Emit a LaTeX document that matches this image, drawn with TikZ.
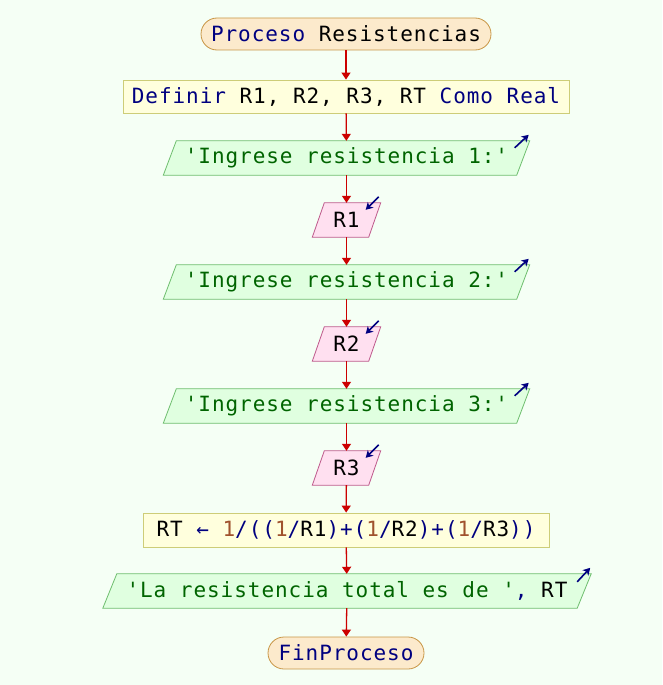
\documentclass[tikz,border=0pt]{standalone}
\usepackage{fontspec}
\setmonofont[LetterSpace=4.5]{DejaVu Sans Mono}
\usetikzlibrary{arrows.meta,backgrounds}
\definecolor{bg}{RGB}{245,255,245}
\definecolor{termfill}{RGB}{252,234,204}
\definecolor{termdraw}{RGB}{200,150,70}
\definecolor{procfill}{RGB}{255,255,221}
\definecolor{procdraw}{RGB}{205,205,120}
\definecolor{outfill}{RGB}{224,255,224}
\definecolor{outdraw}{RGB}{110,190,110}
\definecolor{infill}{RGB}{255,224,240}
\definecolor{indraw}{RGB}{190,90,140}
\definecolor{kw}{RGB}{0,0,128}
\definecolor{str}{RGB}{0,100,0}
\definecolor{num}{RGB}{160,82,45}
\definecolor{flow}{RGB}{204,0,0}
\newcommand\K[1]{\textcolor{kw}{#1}}
\newcommand\Sx[1]{\textcolor{str}{#1}}
\newcommand\N[1]{\textcolor{num}{#1}}
\newcommand\mypara[3]{%
  \filldraw[#3] ([xshift=#2]#1.north west) -- (#1.north east)
    -- ([xshift=-#2]#1.south east) -- (#1.south west) -- cycle;}
\begin{document}
\begin{tikzpicture}[x=1pt,y=-1pt,
  every node/.style={font=\ttfamily\fontsize{21}{24}\selectfont, inner sep=0pt},
  term/.style={draw=termdraw, fill=termfill, rounded corners=16pt, minimum height=32pt, line width=0.8pt},
  proc/.style={draw=procdraw, fill=procfill, minimum height=33pt, line width=0.8pt},
  io/.style={minimum height=34pt},
  flowline/.style={draw=flow, line width=1.3pt, -{Triangle[length=7pt,width=9pt]}},
  icon/.style={draw=kw, line width=1.6pt, -{Stealth[length=7pt,width=8pt,inset=2pt]}}]
\useasboundingbox (0,0) rectangle (662,685);

\node[term, minimum width=290pt] (start) at (346,34) {\K{Proceso} Resistencias};
\node[proc, minimum width=446pt] (def) at (346,96.5) {\K{Definir} R1, R2, R3, RT \K{Como Real}};
\node[io, minimum width=366pt] (o1) at (346.5,158) {\Sx{'Ingrese resistencia 1:'}};
\node[io, minimum width=68pt] (i1) at (346.5,220) {R1};
\node[io, minimum width=366pt] (o2) at (346.5,282) {\Sx{'Ingrese resistencia 2:'}};
\node[io, minimum width=68pt] (i2) at (346.5,344) {R2};
\node[io, minimum width=366pt] (o3) at (346.5,406) {\Sx{'Ingrese resistencia 3:'}};
\node[io, minimum width=68pt] (i3) at (346.5,468) {R3};
\node[proc, minimum width=406pt, minimum height=34pt] (calc) at (346,530) {RT \K{←} \N{1}\K{/((}\N{1}\K{/}R1\K{)+(}\N{1}\K{/}R2\K{)+(}\N{1}\K{/}R3\K{))}};
\node[io, minimum width=488pt] (o4) at (347,591) {\Sx{'La resistencia total es de '}\K{,} RT};
\node[term, minimum width=156pt] (stop) at (346,653) {\K{FinProceso}};

\begin{scope}[on background layer]
\fill[bg] (0,0) rectangle (662,685);
\mypara{o1}{13pt}{draw=outdraw, fill=outfill, line width=0.8pt}
\mypara{o2}{13pt}{draw=outdraw, fill=outfill, line width=0.8pt}
\mypara{o3}{13pt}{draw=outdraw, fill=outfill, line width=0.8pt}
\mypara{o4}{14pt}{draw=outdraw, fill=outfill, line width=0.8pt}
\mypara{i1}{12pt}{draw=indraw, fill=infill, line width=0.8pt}
\mypara{i2}{12pt}{draw=indraw, fill=infill, line width=0.8pt}
\mypara{i3}{12pt}{draw=indraw, fill=infill, line width=0.8pt}
\end{scope}

\foreach \n in {o1,o2,o3}{
  \draw[icon] ([xshift=-15pt,yshift=-7pt]\n.north east) -- ([xshift=-1pt,yshift=6pt]\n.north east);}
\draw[icon] ([xshift=-14pt,yshift=-8pt]o4.north east) -- ([xshift=-1pt,yshift=6pt]o4.north east);
\foreach \n in {i1,i2,i3}{
  \draw[icon] ([xshift=-2pt,yshift=6pt]\n.north east) -- ([xshift=-15pt,yshift=-7pt]\n.north east);}

\draw[flowline] (start) -- (def);
\draw[flowline] (def) -- (o1);
\draw[flowline] (o1) -- (i1);
\draw[flowline] (i1) -- (o2);
\draw[flowline] (o2) -- (i2);
\draw[flowline] (i2) -- (o3);
\draw[flowline] (o3) -- (i3);
\draw[flowline] (i3) -- (calc);
\draw[flowline] (calc) -- (o4);
\draw[flowline] (o4) -- (stop);
\end{tikzpicture}
\end{document}
